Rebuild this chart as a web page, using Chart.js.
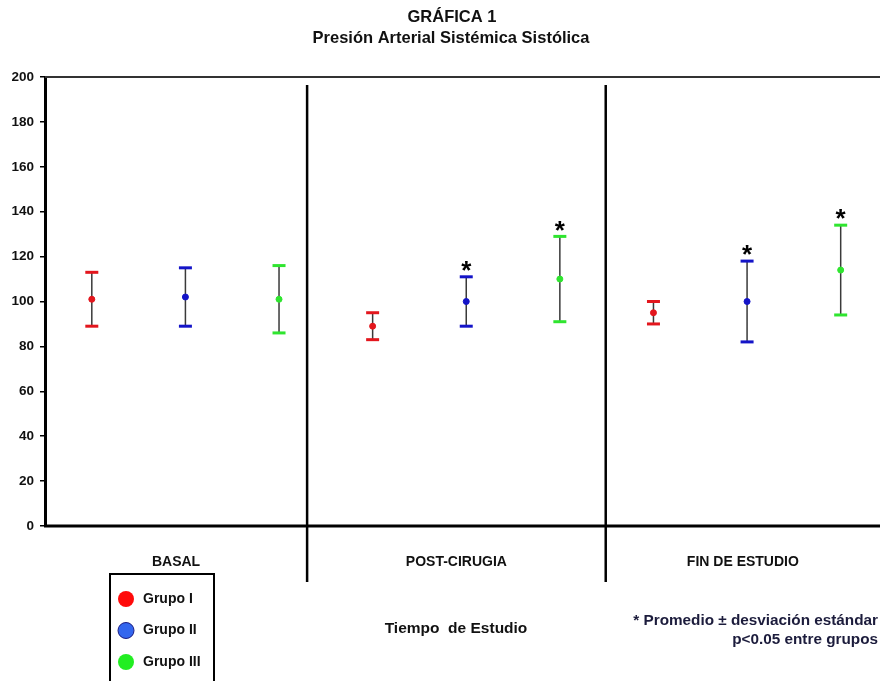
<!DOCTYPE html>
<html lang="es">
<head>
<meta charset="UTF-8">
<title>Gráfica 1</title>
<script src="https://cdn.jsdelivr.net/npm/chart.js"></script>
<style>
  html, body { margin: 0; padding: 0; background: #fff; overflow: hidden; }
  canvas { display: block; }
</style>
</head>
<body>
<canvas id="myChart" width="880" height="681"></canvas>
<script>
// ---- data ----
const categories = ['BASAL', 'POST-CIRUGIA', 'FIN DE ESTUDIO'];
const groups = ['Grupo I', 'Grupo II', 'Grupo III'];

const grupoIMean = [101, 89, 95];
const grupoILow = [89, 83, 90];
const grupoIHigh = [113, 95, 100];

const grupoIIMean = [102, 100, 100];
const grupoIILow = [89, 89, 82];
const grupoIIHigh = [115, 111, 118];

const grupoIIIMean = [101, 110, 114];
const grupoIIILow = [86, 91, 94];
const grupoIIIHigh = [116, 129, 134];

// asterisk = p<0.05 entre grupos
const grupoISig = [false, false, false];
const grupoIISig = [false, true, true];
const grupoIIISig = [false, true, true];

const yTicks = { min: 0, max: 200, step: 20 };
const separators = [3.3, 6.49]; // in x-scale units, between study times

const groupColors = ['#e3161d', '#1414c8', '#2fe52f'];
const legendColors = ['#ff0a0a', '#3366ee', '#22ee22'];

const means = [grupoIMean, grupoIIMean, grupoIIIMean];
const lows = [grupoILow, grupoIILow, grupoIIILow];
const highs = [grupoIHigh, grupoIIHigh, grupoIIIHigh];
const sigs = [grupoISig, grupoIISig, grupoIIISig];

// x position of a group inside a category (1..9)
const xPos = (c, g) => c * 3 + g + 1;

// ---- datasets ----
const meanSets = groups.map((name, g) => ({
  type: 'scatter',
  label: name,
  data: categories.map((_, c) => ({ x: xPos(c, g), y: means[g][c] })),
  backgroundColor: groupColors[g],
  borderColor: groupColors[g],
  pointRadius: 3,
  pointHoverRadius: 3
}));

const capSets = groups.map((name, g) => ({
  type: 'scatter',
  label: name + ' DE',
  data: categories.flatMap((_, c) => [
    { x: xPos(c, g), y: highs[g][c] },
    { x: xPos(c, g), y: lows[g][c] }
  ]),
  pointStyle: 'line',
  borderColor: groupColors[g],
  borderWidth: 3,
  pointRadius: 6.5,
  pointHoverRadius: 6.5
}));

const stemData = [];
groups.forEach((_, g) => {
  categories.forEach((_, c) => {
    stemData.push({ x: xPos(c, g), y: lows[g][c] });
    stemData.push({ x: xPos(c, g), y: highs[g][c] });
    stemData.push({ x: xPos(c, g), y: null });
  });
});
const stemSet = {
  type: 'line',
  label: 'stems',
  data: stemData,
  borderColor: '#3a3a3a',
  borderWidth: 1.5,
  pointRadius: 0,
  spanGaps: false,
  fill: false
};

// ---- extra drawing: frame, separators, asterisks, texts, legend ----
const annot = {
  id: 'annot',
  afterDraw(chart) {
    const { ctx, chartArea: a, scales: { x, y } } = chart;
    const font = (s) => 'bold ' + s + 'px "Liberation Sans", Arial, sans-serif';
    ctx.save();

    // top line at 200
    ctx.strokeStyle = '#333';
    ctx.lineWidth = 2;
    ctx.beginPath();
    ctx.moveTo(a.left, y.getPixelForValue(yTicks.max));
    ctx.lineTo(a.right, y.getPixelForValue(yTicks.max));
    ctx.stroke();

    // x axis at 0
    ctx.strokeStyle = '#000';
    ctx.lineWidth = 3;
    ctx.beginPath();
    ctx.moveTo(a.left - 1, y.getPixelForValue(0));
    ctx.lineTo(a.right, y.getPixelForValue(0));
    ctx.stroke();

    // separators
    ctx.lineWidth = 2.5;
    separators.forEach(s => {
      const px = x.getPixelForValue(s);
      ctx.beginPath();
      ctx.moveTo(px, a.top + 8);
      ctx.lineTo(px, a.bottom + 56);
      ctx.stroke();
    });

    // asterisks
    ctx.fillStyle = '#000';
    ctx.font = font(26);
    ctx.textAlign = 'center';
    ctx.textBaseline = 'middle';
    groups.forEach((_, g) => {
      categories.forEach((_, c) => {
        if (sigs[g][c]) {
          ctx.fillText('*', x.getPixelForValue(xPos(c, g)), y.getPixelForValue(highs[g][c]) - 5);
        }
      });
    });

    // category labels centred between separators
    const bounds = [x.min, ...separators, x.max];
    ctx.font = font(14);
    ctx.fillStyle = '#111';
    categories.forEach((cat, c) => {
      const cx = (x.getPixelForValue(bounds[c]) + x.getPixelForValue(bounds[c + 1])) / 2;
      ctx.fillText(cat, cx, a.bottom + 36);
    });

    // axis title
    ctx.font = font(15.5);
    ctx.fillText('Tiempo  de Estudio', 456, 629);

    // chart title
    ctx.font = font(16.5);
    ctx.fillText('GRÁFICA 1', 452, 17);
    ctx.fillText('Presión Arterial Sistémica Sistólica', 451, 38);

    // note
    ctx.fillStyle = '#1c1c3c';
    ctx.textAlign = 'right';
    ctx.font = font(15.3);
    ctx.fillText('* Promedio ± desviación estándar', 878, 621);
    ctx.fillText('p<0.05 entre grupos', 878, 640);

    // legend
    ctx.strokeStyle = '#000';
    ctx.lineWidth = 2;
    ctx.strokeRect(110, 574, 104, 120);
    ctx.textAlign = 'left';
    ctx.font = font(14);
    groups.forEach((name, g) => {
      const ly = 599 + g * 31.5;
      ctx.beginPath();
      ctx.arc(126, ly, 8, 0, Math.PI * 2);
      ctx.fillStyle = legendColors[g];
      ctx.fill();
      if (g === 1) { ctx.lineWidth = 1; ctx.strokeStyle = '#1a1a80'; ctx.stroke(); }
      ctx.fillStyle = '#111';
      ctx.fillText(name, 143, ly);
    });

    ctx.restore();
  }
};

const ctx = document.getElementById('myChart').getContext('2d');
new Chart(ctx, {
  data: { datasets: [...meanSets, ...capSets, stemSet] },
  options: {
    responsive: false,
    animation: false,
    layout: { autoPadding: false, padding: { left: 0, top: 77, right: 0, bottom: 155 } },
    plugins: {
      legend: { display: false },
      title: { display: false },
      tooltip: { enabled: false }
    },
    scales: {
      x: {
        type: 'linear',
        display: false,
        min: 0.5,
        max: 9.42
      },
      y: {
        min: yTicks.min,
        max: yTicks.max,
        afterFit: (scale) => { scale.width = 45; },
        ticks: {
          stepSize: yTicks.step,
          padding: 6,
          color: '#111',
          font: { family: '"Liberation Sans", Arial, sans-serif', size: 13.5, weight: 'bold' }
        },
        grid: {
          drawOnChartArea: false,
          drawTicks: true,
          tickLength: 5,
          color: '#000',
          lineWidth: 1.5
        },
        border: { display: true, color: '#000', width: 3 }
      }
    }
  },
  plugins: [annot]
});
</script>
</body>
</html>
